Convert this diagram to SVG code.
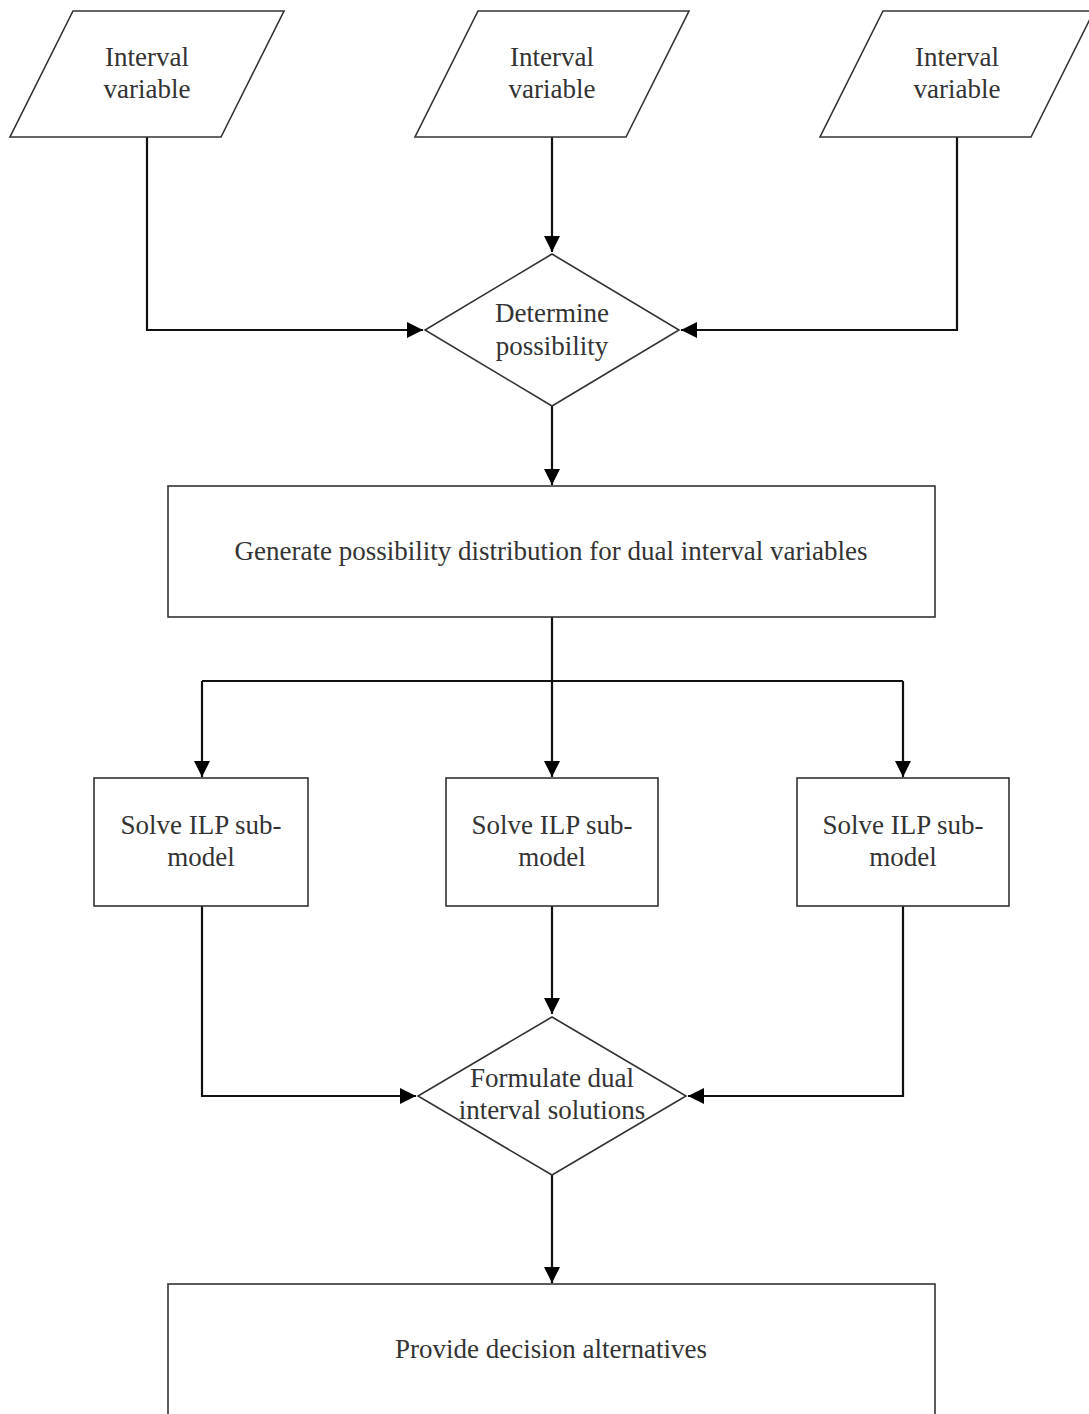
<svg xmlns="http://www.w3.org/2000/svg" width="1089" height="1414" viewBox="0 0 1089 1414">
<defs>
<marker id="ah" markerWidth="16" markerHeight="16" viewBox="0 0 16 16" refX="16" refY="8" orient="auto" markerUnits="userSpaceOnUse">
<path d="M0,0 L16,8 L0,16 Z" fill="#000"/>
</marker>
<style>
.n{fill:#fff;stroke:#333;stroke-width:1.6}
.t{font-size:27px;fill:#333;text-anchor:middle}
.c{fill:none;stroke:#111;stroke-width:2.2}
</style>
</defs>
<rect width="1089" height="1414" fill="#fff"/>
<g id="connectors">
<path class="c" d="M147,137 V330 H423" marker-end="url(#ah)"/>
<path class="c" d="M552,137 V252" marker-end="url(#ah)"/>
<path class="c" d="M957,137 V330 H681" marker-end="url(#ah)"/>
<path class="c" d="M552,406 V485" marker-end="url(#ah)"/>
<path class="c" d="M552,617 V681"/>
<path class="c" d="M202,681 H903"/>
<path class="c" d="M202,681 V777" marker-end="url(#ah)"/>
<path class="c" d="M552,681 V777" marker-end="url(#ah)"/>
<path class="c" d="M903,681 V777" marker-end="url(#ah)"/>
<path class="c" d="M202,906 V1096 H416" marker-end="url(#ah)"/>
<path class="c" d="M552,906 V1014" marker-end="url(#ah)"/>
<path class="c" d="M903,906 V1096 H688" marker-end="url(#ah)"/>
<path class="c" d="M552,1175 V1283" marker-end="url(#ah)"/>
</g>
<g font-family="'Liberation Serif', 'Times New Roman', serif">
<g id="input1">
<polygon class="n" points="73,11 284,11 221,137 10,137"/>
<text class="t" x="147" y="66">Interval</text>
<text class="t" x="147" y="98">variable</text>
</g>
<g id="input2">
<polygon class="n" points="478,11 689,11 626,137 415,137"/>
<text class="t" x="552" y="66">Interval</text>
<text class="t" x="552" y="98">variable</text>
</g>
<g id="input3">
<polygon class="n" points="883,11 1094,11 1031,137 820,137"/>
<text class="t" x="957" y="66">Interval</text>
<text class="t" x="957" y="98">variable</text>
</g>
<g id="determine">
<polygon class="n" points="552,254 679,330 552,406 425,330"/>
<text class="t" x="552" y="322">Determine</text>
<text class="t" x="552" y="355">possibility</text>
</g>
<g id="generate">
<rect class="n" x="168" y="486" width="767" height="131"/>
<text class="t" x="551" y="560">Generate possibility distribution for dual interval variables</text>
</g>
<g id="solve1">
<rect class="n" x="94" y="778" width="214" height="128"/>
<text class="t" x="201" y="834">Solve ILP sub-</text>
<text class="t" x="201" y="866">model</text>
</g>
<g id="solve2">
<rect class="n" x="446" y="778" width="212" height="128"/>
<text class="t" x="552" y="834">Solve ILP sub-</text>
<text class="t" x="552" y="866">model</text>
</g>
<g id="solve3">
<rect class="n" x="797" y="778" width="212" height="128"/>
<text class="t" x="903" y="834">Solve ILP sub-</text>
<text class="t" x="903" y="866">model</text>
</g>
<g id="formulate">
<polygon class="n" points="552,1017 686,1096 552,1175 418,1096"/>
<text class="t" x="552" y="1087">Formulate dual</text>
<text class="t" x="552" y="1119">interval solutions</text>
</g>
<g id="provide">
<rect class="n" x="168" y="1284" width="767" height="160"/>
<text class="t" x="551" y="1358">Provide decision alternatives</text>
</g>
</g>
</svg>
